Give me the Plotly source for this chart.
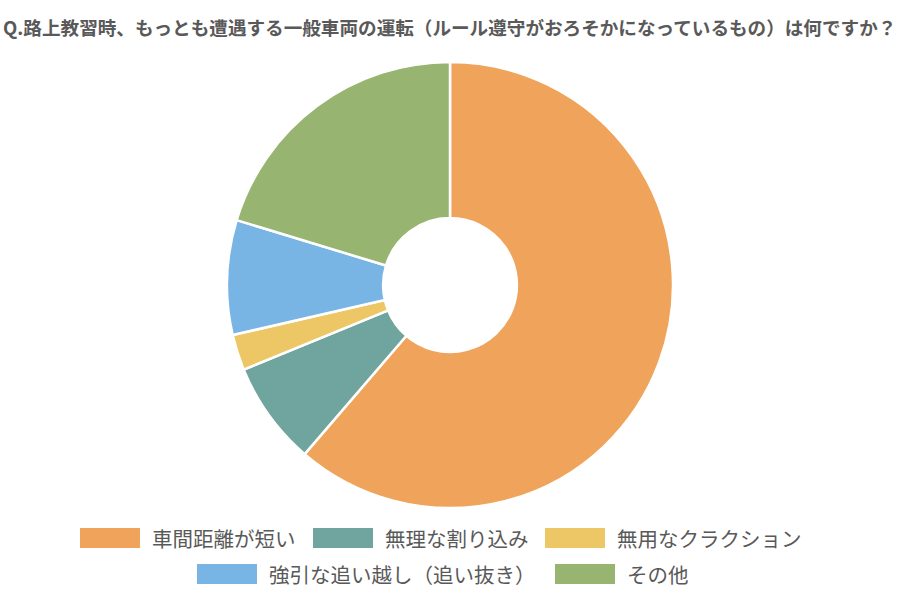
import plotly.graph_objects as go

title_text = "Q.路上教習時、もっとも遭遇する一般車両の運転（ルール遵守がおろそかになっているもの）は何ですか？"
labels = ["車間距離が短い", "無理な割り込み", "無用なクラクション", "強引な追い越し（追い抜き）", "その他"]
values = [61.3, 7.5, 2.6, 8.3, 20.3]
colors = ["#F0A35A", "#6FA59E", "#EDC765", "#78B5E5", "#97B470"]

W, H = 900, 600
cx, cy, r = 450, 285, 223

fig = go.Figure(go.Pie(
    labels=labels,
    values=values,
    marker=dict(colors=colors, line=dict(color="white", width=2.5)),
    hole=0.30,
    sort=False,
    direction="clockwise",
    rotation=0,
    textinfo="none",
    hoverinfo="label+percent",
    showlegend=False,
    domain=dict(x=[(cx - r) / W, (cx + r) / W], y=[1 - (cy + r) / H, 1 - (cy - r) / H]),
))

# legend built as shapes + text (two centred rows as in the reference)
legend_pos = [(80, 538), (313, 538), (545, 538), (197, 574), (555, 574)]
shapes, annots = [], []
for (lx, ly), lab, col in zip(legend_pos, labels, colors):
    shapes.append(dict(type="rect", xref="paper", yref="paper",
                       x0=lx / W, x1=(lx + 60) / W, y0=1 - (ly + 10) / H, y1=1 - (ly - 10) / H,
                       fillcolor=col, line=dict(width=0)))
    annots.append(dict(xref="paper", yref="paper", x=(lx + 70) / W, y=1 - ly / H,
                       xanchor="left", yanchor="middle", showarrow=False, text=lab,
                       font=dict(size=20.5, color="#595959", family="Noto Sans CJK JP")))

fig.update_layout(
    width=W, height=H,
    margin=dict(l=0, r=0, t=0, b=0),
    paper_bgcolor="white",
    font=dict(family="Noto Sans CJK JP", color="#595959"),
    title=dict(text="<b>" + title_text + "</b>", xref="container", x=0.0, xanchor="left",
               yref="container", y=0.953, yanchor="middle", pad=dict(l=3, t=0, b=0, r=0),
               font=dict(size=18.6, color="#595959", family="Noto Sans CJK JP")),
    shapes=shapes,
    annotations=annots,
)

fig.write_html("out.html", config={"displayModeBar": False},
               post_script="document.body.style.margin='0';")
